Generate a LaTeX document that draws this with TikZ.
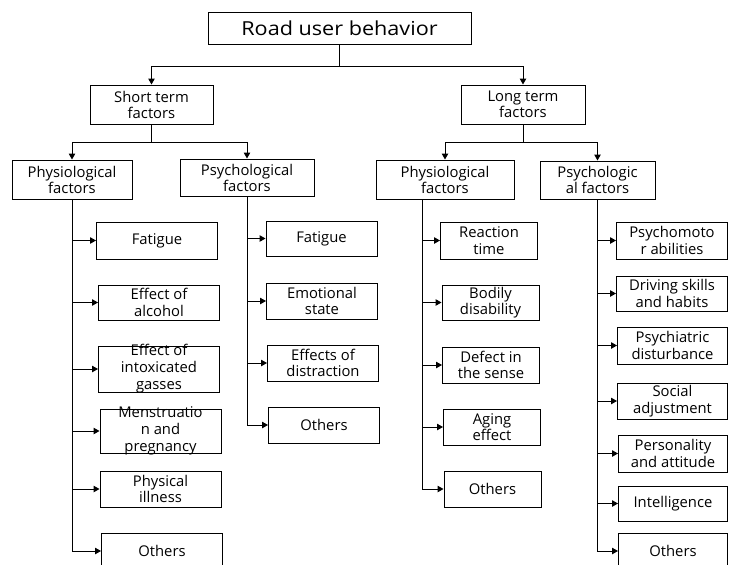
\documentclass[tikz,border=0pt]{standalone}
\usepackage{fontspec}
\setmainfont{Open Sans}
\newfontfamily\widefont{Open Sans}[FakeStretch=1.12]
\usetikzlibrary{arrows.meta}
\newcommand{\spill}[1]{\smash{\raisebox{-0.25em}{\begin{tabular}{@{}c@{}}#1\end{tabular}}}}
\tikzset{
  box/.style={draw, line width=1pt, inner sep=0pt, align=center},
  topbox/.style={box, minimum width=263pt, minimum height=32pt, font=\widefont\fontsize{19.3}{22}\selectfont},
  midbox/.style={box, minimum height=39pt, font=\fontsize{14.8}{16}\selectfont},
  leaf/.style={box, minimum height=36pt, font=\fontsize{14.8}{16.6}\selectfont},
  arr/.style={line width=1pt, -{Triangle[length=6pt,width=6.5pt]}}
}
\begin{document}
\begin{tikzpicture}[x=1pt,y=-1pt]
    \useasboundingbox (0,0) rectangle (729,565);

    % top levels
    \node[topbox] (road) at (339.5,28) {Road user behavior};
    \node[midbox, minimum width=123pt] (short) at (151.5,104.5) {Short term\\factors};
    \node[midbox, minimum width=124pt] (long) at (523,104.5) {Long term\\factors};
    \node[midbox, minimum width=120pt] (physL) at (72,179.5) {Physiological\\factors};
    \node[midbox, minimum width=134pt, minimum height=37pt] (psychL) at (247,177.5) {Psychological\\factors};
    \node[midbox, minimum width=138pt] (physR) at (445,179.5) {Physiological\\factors};
    \node[midbox, minimum width=115pt, minimum height=38pt] (psychR) at (597.5,180) {Psychologic\\al factors};

    % short term, physiological
    \node[leaf, minimum width=121pt, minimum height=37pt] (fatL) at (157,240.5) {Fatigue};
    \node[leaf, minimum width=121pt, minimum height=35pt] (alcL) at (159,302.5) {Effect of\\alcohol};
    \node[leaf, minimum width=121pt, minimum height=46pt] (gasL) at (159,369) {\spill{Effect of\\intoxicated\\gasses}};
    \node[leaf, minimum width=121pt, minimum height=44pt] (menL) at (160.5,431) {\spill{Menstruatio\\n and\\pregnancy}};
    \node[leaf, minimum width=121pt] (illL) at (160.5,489) {Physical\\illness};
    \node[leaf, minimum width=121pt] (othL) at (162,551) {Others};

    % short term, psychological
    \node[leaf, minimum width=111pt, minimum height=35pt] (fatM) at (321.5,238.5) {Fatigue};
    \node[leaf, minimum width=111pt] (emoM) at (322,301) {Emotional\\state};
    \node[leaf, minimum width=111pt] (disM) at (323,363) {Effects of\\distraction};
    \node[leaf, minimum width=111pt] (othM) at (324,425) {Others};

    % long term, physiological
    \node[leaf, minimum width=97pt, minimum height=37pt] (reaR) at (489,240.5) {Reaction\\time};
    \node[leaf, minimum width=97pt, minimum height=35pt] (bodR) at (490.5,302.5) {Bodily\\disability};
    \node[leaf, minimum width=97pt] (defR) at (491,365) {Defect in\\the sense};
    \node[leaf, minimum width=97pt] (ageR) at (492,427) {Aging\\effect};
    \node[leaf, minimum width=97pt] (othR) at (492.5,489) {Others};

    % long term, psychological
    \node[leaf, minimum width=111pt, minimum height=37pt] (psmP) at (672,240.5) {Psychomoto\\r abilities};
    \node[leaf, minimum width=111pt, minimum height=35pt] (drvP) at (672,293.5) {Driving skills\\and habits};
    \node[leaf, minimum width=110pt, minimum height=37pt] (psyP) at (672.5,345.5) {Psychiatric\\disturbance};
    \node[leaf, minimum width=110pt] (socP) at (672.5,401) {Social\\adjustment};
    \node[leaf, minimum width=109pt, minimum height=37pt] (perP) at (673,453.5) {Personality\\and attitude};
    \node[leaf, minimum width=109pt, minimum height=35pt] (intP) at (673,503.5) {Intelligence};
    \node[leaf, minimum width=109pt] (othP) at (673,551) {Others};

    % trunk of the long term physiological branch
    \coordinate (trunkR) at (422,199);

    % connectors
    \draw[arr] (road.south) -- ++(0,22) -| (short.north);
    \draw[arr] (road.south) -- ++(0,22) -| (long.north);
    \draw[arr] (short.south) -- ++(0,18) -| (physL.north);
    \draw[arr] (short.south) -- ++(0,18) -| (psychL.north);
    \draw[arr] (long.south) -- ++(0,18) -| (physR.north);
    \draw[arr] (long.south) -- ++(0,18) -| (psychR.north);

    \foreach \n in {fatL,alcL,gasL,menL,illL,othL}
      \draw[arr] (physL.south) |- (\n.west);
    \foreach \n in {fatM,emoM,disM,othM}
      \draw[arr] (psychL.south) |- (\n.west);
    \foreach \n in {reaR,bodR,defR,ageR,othR}
      \draw[arr] (trunkR) |- (\n.west);
    \foreach \n in {psmP,drvP,psyP,socP,perP,intP,othP}
      \draw[arr] (psychR.south) |- (\n.west);

\end{tikzpicture}
\end{document}
